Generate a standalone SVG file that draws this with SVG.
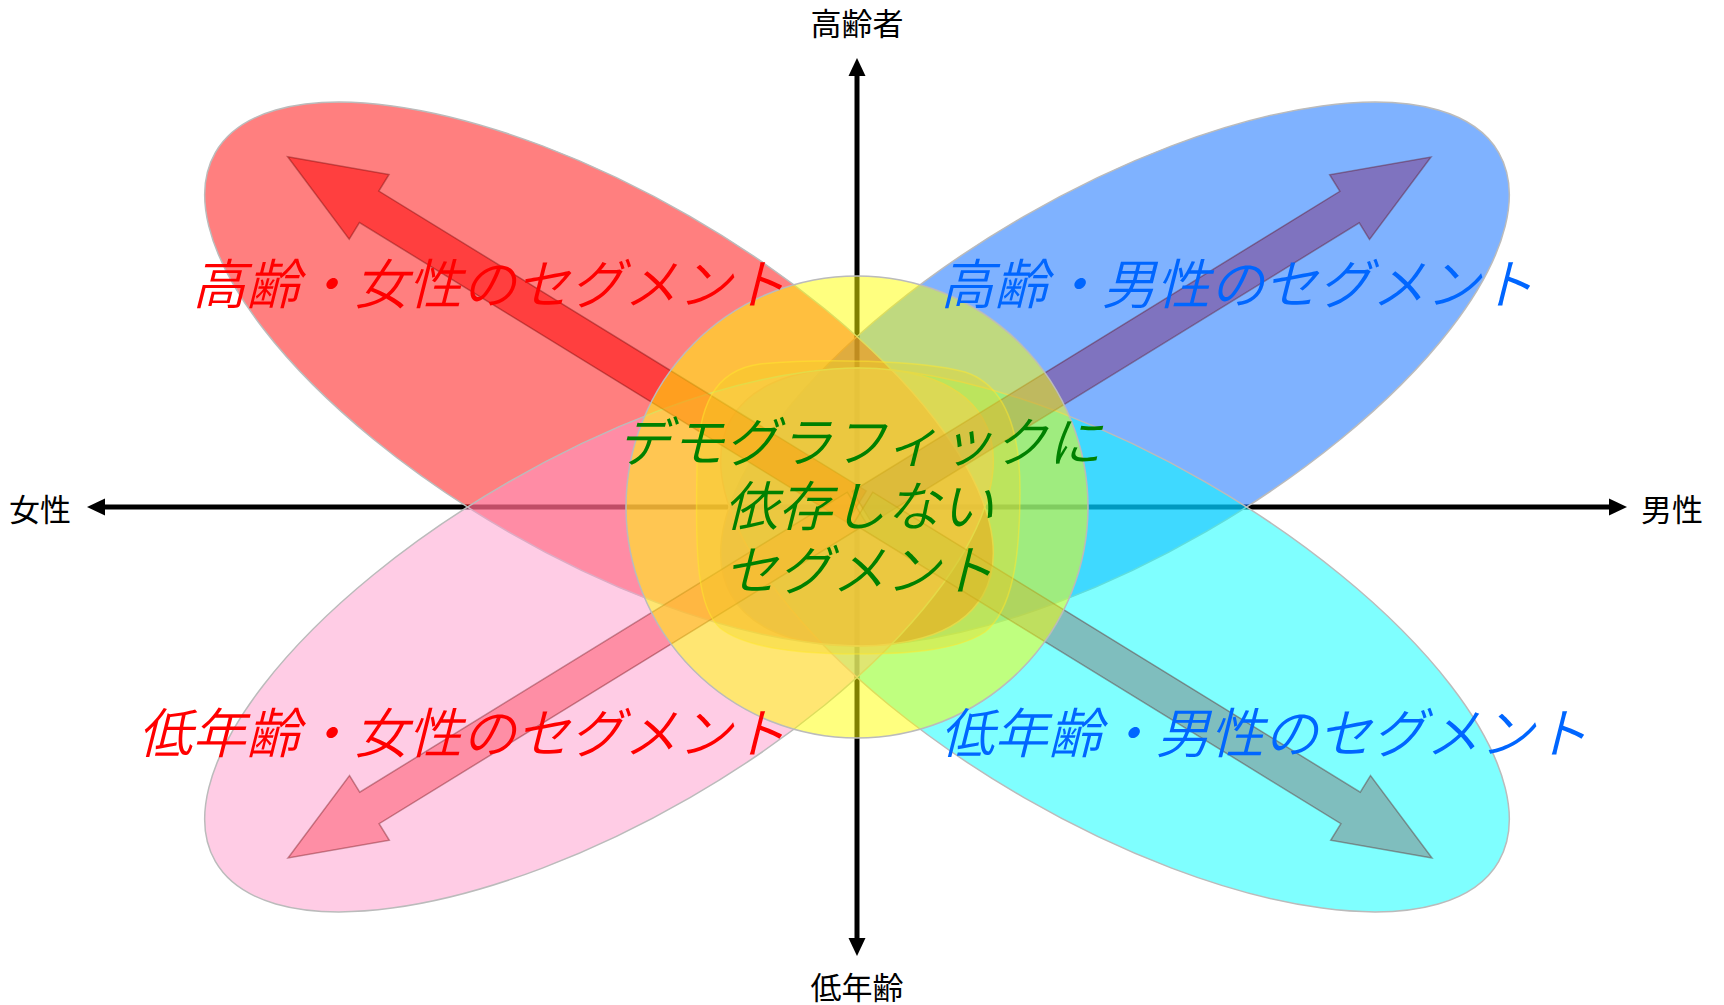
<svg xmlns="http://www.w3.org/2000/svg" width="1724" height="1005" viewBox="0 0 1724 1005">
<style>
.ax{stroke:#000;stroke-width:5;fill:none}
.ah{fill:#000}
.petal{stroke:#BBBBBB;stroke-width:1.5}
.arr{stroke:rgba(90,0,0,0.35);stroke-width:1.5}
.lbl{font-family:"Noto Sans CJK JP","Noto Sans",sans-serif;font-size:31px;fill:#000}
.seg{font-family:"Noto Sans CJK JP","Noto Sans",sans-serif;font-size:54px;font-style:italic;font-weight:350}
.ctr{font-family:"Noto Sans CJK JP","Noto Sans",sans-serif;font-size:54px;font-style:italic;font-weight:350;fill:#008000}
</style>
<defs>
<path id="arrowShape" d="M0,0 L95.6,-38 L95.6,-18.5 L668,-18.5 L668,18.5 L95.6,18.5 L95.6,38 Z"/>
</defs>
<rect x="0" y="0" width="1724" height="1005" fill="#FFFFFF"/>
<g id="axes">
<line class="ax" x1="100" y1="507" x2="1614" y2="507"/>
<line class="ax" x1="857" y1="72" x2="857" y2="942"/>
<polygon class="ah" points="87,507 105,498.5 105,515.5"/>
<polygon class="ah" points="1627,507 1609,498.5 1609,515.5"/>
<polygon class="ah" points="857,58 848.5,76 865.5,76"/>
<polygon class="ah" points="857,956 848.5,938 865.5,938"/>
</g>
<g id="petals">
<g id="seg-old-male"><ellipse class="petal" cx="1115" cy="374" rx="443" ry="182" transform="rotate(-30 1115 374)" fill="rgba(0,102,255,0.5)"/></g>
<g id="seg-young-male"><ellipse class="petal" cx="1115" cy="640" rx="443" ry="182" transform="rotate(30 1115 640)" fill="rgba(0,255,255,0.5)"/></g>
<g id="seg-old-female"><ellipse class="petal" cx="599" cy="374" rx="443" ry="182" transform="rotate(30 599 374)" fill="rgba(255,0,0,0.5)"/></g>
<g id="seg-young-female"><ellipse class="petal" cx="599" cy="640" rx="443" ry="182" transform="rotate(-30 599 640)" fill="rgba(255,153,204,0.5)"/></g>
</g>
<g id="connectors">
<use href="#arrowShape" class="arr" fill="rgba(255,0,0,0.5)" transform="translate(287.7 156.7) rotate(31.6)"/>
<use href="#arrowShape" class="arr" fill="rgba(128,51,128,0.5)" transform="translate(1431 157) rotate(148.4)"/>
<use href="#arrowShape" class="arr" fill="rgba(254,80,102,0.5)" transform="translate(288 858) rotate(-31.6)"/>
<use href="#arrowShape" class="arr" fill="rgba(128,125,125,0.5)" transform="translate(1432 858) rotate(-148.4)"/>
</g>
<g id="center-segment">
<path d="M697,470 C697,405 715,370 760,364 C820,358 920,360 965,372 C1005,385 1020,430 1020,490 C1020,560 1012,610 985,632 C955,652 900,654 857,654 C800,654 745,648 720,628 C698,608 695,560 697,470 Z" fill="rgba(225,170,60,0.35)" stroke="rgba(255,210,90,0.5)" stroke-width="1.5"/>
<circle cx="857" cy="507" r="231" fill="rgba(255,255,0,0.5)" stroke="#BBBBBB" stroke-width="1.5"/>
</g>
<g id="labels">
<text class="lbl" x="857" y="35" text-anchor="middle">高齢者</text>
<text class="lbl" x="857" y="999" text-anchor="middle">低年齢</text>
<text class="lbl" x="9" y="521">女性</text>
<text class="lbl" x="1641" y="521">男性</text>
<text class="seg" x="786" y="304" text-anchor="end" fill="#FF0000">高齢・女性のセグメント</text>
<text class="seg" x="940" y="304" fill="#0066FF">高齢・男性のセグメント</text>
<text class="seg" x="786" y="753" text-anchor="end" fill="#FF0000">低年齢・女性のセグメント</text>
<text class="seg" x="940" y="753" fill="#0066FF">低年齢・男性のセグメント</text>
<text class="ctr" x="859" y="462" text-anchor="middle">デモグラフィックに</text>
<text class="ctr" x="859" y="526" text-anchor="middle">依存しない</text>
<text class="ctr" x="859" y="590" text-anchor="middle">セグメント</text>
</g>
</svg>
